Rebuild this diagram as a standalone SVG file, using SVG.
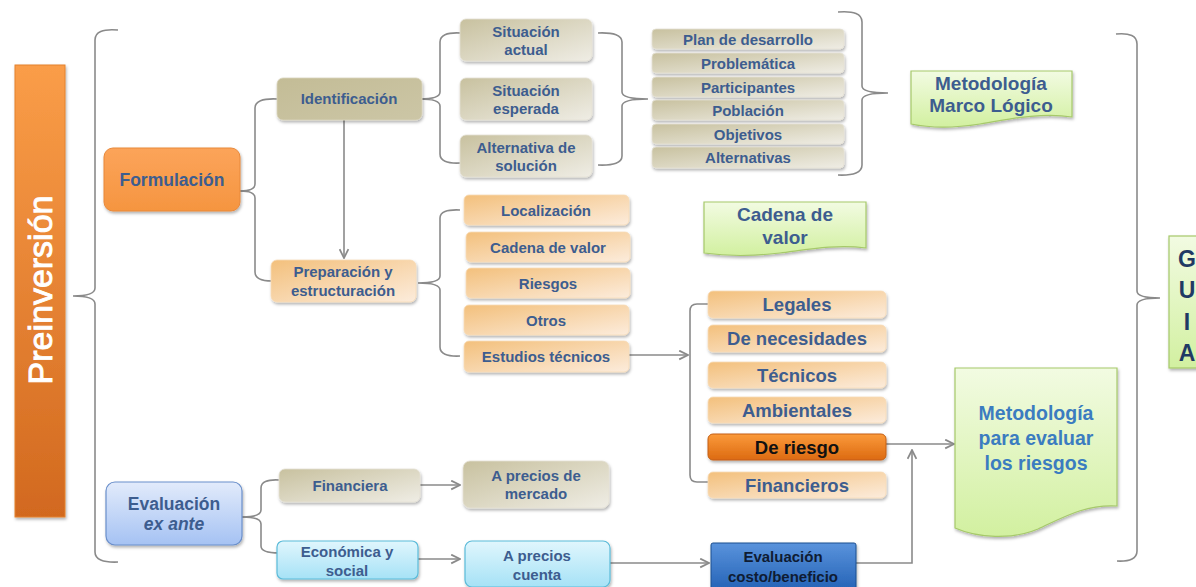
<svg xmlns="http://www.w3.org/2000/svg" width="1196" height="587" viewBox="0 0 1196 587">
  <defs>
    <linearGradient id="gOrangeBar" x1="0" y1="0" x2="0" y2="1">
      <stop offset="0" stop-color="#fa9d48"/>
      <stop offset="1" stop-color="#d2691f"/>
    </linearGradient>
    <linearGradient id="gOrange" x1="0" y1="0" x2="0" y2="1">
      <stop offset="0" stop-color="#fca45a"/>
      <stop offset="1" stop-color="#f59540"/>
    </linearGradient>
    <linearGradient id="gRisk" x1="0" y1="0" x2="0" y2="1">
      <stop offset="0" stop-color="#fb9a3a"/>
      <stop offset="1" stop-color="#dc6a12"/>
    </linearGradient>
    <linearGradient id="gKhakiDark" x1="0" y1="0" x2="1" y2="1">
      <stop offset="0" stop-color="#c3bc96"/>
      <stop offset="1" stop-color="#ccc6a6"/>
    </linearGradient>
    <linearGradient id="gKhaki" x1="0" y1="0" x2="1" y2="1">
      <stop offset="0" stop-color="#c8c19f"/>
      <stop offset="1" stop-color="#efede5"/>
    </linearGradient>
    <linearGradient id="gPeach" x1="0" y1="0" x2="1" y2="1">
      <stop offset="0" stop-color="#f3c07c"/>
      <stop offset="1" stop-color="#fcecdc"/>
    </linearGradient>
    <linearGradient id="gBlueLight" x1="0" y1="0" x2="0" y2="1">
      <stop offset="0" stop-color="#e2ebfb"/>
      <stop offset="1" stop-color="#a5c2f3"/>
    </linearGradient>
    <linearGradient id="gCyan" x1="0" y1="0" x2="0" y2="1">
      <stop offset="0" stop-color="#e0f6fd"/>
      <stop offset="1" stop-color="#a6e2f6"/>
    </linearGradient>
    <linearGradient id="gBlueDark" x1="0" y1="0" x2="0" y2="1">
      <stop offset="0" stop-color="#5a93dc"/>
      <stop offset="1" stop-color="#2160b4"/>
    </linearGradient>
    <linearGradient id="gGreen" x1="0" y1="0" x2="0" y2="1">
      <stop offset="0" stop-color="#f2fbe2"/>
      <stop offset="1" stop-color="#d2f0a0"/>
    </linearGradient>
    <filter id="shadow" x="-10%" y="-20%" width="125%" height="150%">
      <feDropShadow dx="1" dy="2" stdDeviation="1.4" flood-color="#000" flood-opacity="0.3"/>
    </filter>
    <marker id="arrow" viewBox="0 0 10 10" refX="9" refY="5" markerWidth="11" markerHeight="11" markerUnits="userSpaceOnUse" orient="auto">
      <path d="M1,1 L9,5 L1,9" fill="none" stroke="#8a8a8a" stroke-width="1.6"/>
    </marker>
    <style>
      .conn { fill: none; stroke: #8a8a8a; stroke-width: 1.6; }
      .arr { fill: none; stroke: #8a8a8a; stroke-width: 1.6; marker-end: url(#arrow); }
      .box { filter: url(#shadow); }
      .t { font-family: "Liberation Sans", Arial, sans-serif; font-weight: bold; fill: #3d5d8f; text-anchor: middle; }
      .s15 { font-size: 15px; }
      .s17 { font-size: 17.5px; }
      .s18 { font-size: 18.5px; }
      .s19 { font-size: 19px; }
      .khakiD { fill: url(#gKhakiDark); stroke: #d9d4bd; stroke-width: 0.8; }
      .khaki { fill: url(#gKhaki); stroke: #e4e1d4; stroke-width: 0.8; }
      .peach { fill: url(#gPeach); stroke: #f7dcb8; stroke-width: 0.8; }
      .green { fill: url(#gGreen); stroke: #a6c96a; stroke-width: 1.2; }
    </style>
  </defs>

  <rect width="1196" height="587" fill="#ffffff"/>

  <!-- connectors: braces and arrows -->
  <g id="connectors">
    <path class="conn" d="M118,30 Q95,28 95,40 L95,288 Q95,296 73,296 Q95,296 95,304 L95,552 Q95,563 118,562"/>
    <path class="conn" d="M277,99 Q255,98 255,108 L255,184 Q255,191 240,191 Q255,191 255,198 L255,272 Q255,281 272,281"/>
    <path class="conn" d="M460,33 Q440,32 440,42 L440,92 Q440,99 420,99 Q440,99 440,106 L440,154 Q440,164 460,163"/>
    <path class="conn" d="M598,33 Q622,32 622,42 L622,92 Q622,99 648,99 Q622,99 622,106 L622,156 Q622,166 598,165"/>
    <path class="conn" d="M838,12 Q862,10 862,22 L862,86 Q862,93 888,93 Q862,93 862,100 L862,165 Q862,176 838,175"/>
    <path class="conn" d="M1116,34 Q1137,32 1137,44 L1137,291 Q1137,298 1160,298 Q1137,298 1137,305 L1137,551 Q1137,562 1117,561"/>
    <path class="conn" d="M460,210 Q440,209 440,218 L440,276 Q440,283 418,283 Q440,283 440,290 L440,347 Q440,357 460,356"/>
    <path class="conn" d="M279,480 Q261,479 261,488 L261,510 Q261,517 242,517 Q261,517 261,524 L261,546 Q261,553 279,553"/>
    <path class="conn" d="M708,304 L697,304 Q690,304 690,311 L690,475 Q690,482 697,482 L708,482"/>
    <path class="arr" d="M344,120 L344,258"/>
    <path class="arr" d="M629,355 L688,355"/>
    <path class="arr" d="M886,444 L954,444"/>
    <path class="arr" d="M856,563 L912,563 L912,450"/>
    <path class="arr" d="M420,485 L460,485"/>
    <path class="arr" d="M418,559 L460,559"/>
    <path class="arr" d="M610,563 L709,563"/>
  </g>

  <!-- vertical stage bar -->
  <g id="preinversion">
    <rect x="15" y="65" width="50" height="452" fill="url(#gOrangeBar)" stroke="#e4822e" stroke-width="1" class="box"/>
    <text transform="translate(52,290) rotate(-90)" text-anchor="middle" font-family="'Liberation Sans', Arial, sans-serif" font-size="34" fill="#ffffff" stroke="#ffffff" stroke-width="0.9">Preinversión</text>
  </g>

  <g id="formulacion">
    <rect x="104" y="148" width="136" height="63" rx="9" fill="url(#gOrange)" stroke="#e8883a" stroke-width="1" class="box"/>
    <text class="t s17" x="172" y="186">Formulación</text>
  </g>

  <g id="identificacion">
    <rect x="277" y="78" width="145" height="42" rx="6" class="khakiD box"/>
    <text class="t s15" x="349" y="104">Identificación</text>
  </g>

  <g id="situacion-actual">
    <rect x="460" y="19" width="132" height="42" rx="6" class="khaki box"/>
    <text class="t s15" x="526" y="37">Situación</text>
    <text class="t s15" x="526" y="55">actual</text>
  </g>
  <g id="situacion-esperada">
    <rect x="460" y="78" width="132" height="42" rx="6" class="khaki box"/>
    <text class="t s15" x="526" y="96">Situación</text>
    <text class="t s15" x="526" y="114">esperada</text>
  </g>
  <g id="alternativa-solucion">
    <rect x="460" y="135" width="132" height="42" rx="6" class="khaki box"/>
    <text class="t s15" x="526" y="153">Alternativa de</text>
    <text class="t s15" x="526" y="171">solución</text>
  </g>

  <g id="plan-desarrollo">
    <rect x="652" y="29" width="192" height="20" rx="4" class="khaki box"/>
    <text class="t s15" x="748" y="45">Plan de desarrollo</text>
  </g>
  <g id="problematica">
    <rect x="652" y="53" width="192" height="20" rx="4" class="khaki box"/>
    <text class="t s15" x="748" y="69">Problemática</text>
  </g>
  <g id="participantes">
    <rect x="652" y="77" width="192" height="20" rx="4" class="khaki box"/>
    <text class="t s15" x="748" y="93">Participantes</text>
  </g>
  <g id="poblacion">
    <rect x="652" y="100" width="192" height="20" rx="4" class="khaki box"/>
    <text class="t s15" x="748" y="116">Población</text>
  </g>
  <g id="objetivos">
    <rect x="652" y="124" width="192" height="20" rx="4" class="khaki box"/>
    <text class="t s15" x="748" y="140">Objetivos</text>
  </g>
  <g id="alternativas">
    <rect x="652" y="147" width="192" height="21" rx="4" class="khaki box"/>
    <text class="t s15" x="748" y="163">Alternativas</text>
  </g>

  <g id="marco-logico">
    <path d="M911,71 H1072 V117 C1040,112 1005,120 980,124 C955,128 930,128 911,124 Z" class="green box"/>
    <text class="t s19" x="991" y="90">Metodología</text>
    <text class="t s19" x="991" y="112">Marco Lógico</text>
  </g>

  <g id="cadena-valor-nota">
    <path d="M704,202 H866 V248 C835,244 805,250 780,253 C755,256 725,256 704,253 Z" class="green box"/>
    <text class="t s19" x="785" y="221">Cadena de</text>
    <text class="t s19" x="785" y="244">valor</text>
  </g>

  <g id="preparacion">
    <rect x="271" y="260" width="145" height="42" rx="6" class="peach box"/>
    <text class="t s15" x="343" y="277">Preparación y</text>
    <text class="t s15" x="343" y="296">estructuración</text>
  </g>

  <g id="localizacion">
    <rect x="464" y="195" width="165" height="30" rx="5" class="peach box"/>
    <text class="t s15" x="546" y="216">Localización</text>
  </g>
  <g id="cadena-valor">
    <rect x="466" y="232" width="164" height="30" rx="5" class="peach box"/>
    <text class="t s15" x="548" y="253">Cadena de valor</text>
  </g>
  <g id="riesgos">
    <rect x="466" y="268" width="164" height="30" rx="5" class="peach box"/>
    <text class="t s15" x="548" y="289">Riesgos</text>
  </g>
  <g id="otros">
    <rect x="464" y="305" width="165" height="30" rx="5" class="peach box"/>
    <text class="t s15" x="546" y="326">Otros</text>
  </g>
  <g id="estudios-tecnicos">
    <rect x="464" y="341" width="165" height="31" rx="5" class="peach box"/>
    <text class="t s15" x="546" y="362">Estudios técnicos</text>
  </g>

  <g id="legales">
    <rect x="708" y="291" width="178" height="27" rx="5" class="peach box"/>
    <text class="t s18" x="797" y="311">Legales</text>
  </g>
  <g id="necesidades">
    <rect x="708" y="325" width="178" height="27" rx="5" class="peach box"/>
    <text class="t s18" x="797" y="345">De necesidades</text>
  </g>
  <g id="tecnicos">
    <rect x="708" y="362" width="178" height="26" rx="5" class="peach box"/>
    <text class="t s18" x="797" y="382">Técnicos</text>
  </g>
  <g id="ambientales">
    <rect x="708" y="397" width="178" height="26" rx="5" class="peach box"/>
    <text class="t s18" x="797" y="417">Ambientales</text>
  </g>
  <g id="de-riesgo">
    <rect x="708" y="434" width="178" height="26" rx="5" fill="url(#gRisk)" stroke="#c45f12" stroke-width="1" class="box"/>
    <text class="t s18" x="797" y="454" style="fill:#111111">De riesgo</text>
  </g>
  <g id="financieros">
    <rect x="708" y="472" width="178" height="26" rx="5" class="peach box"/>
    <text class="t s18" x="797" y="492">Financieros</text>
  </g>

  <g id="evaluar-riesgos">
    <path d="M955,368 H1117 V506 C1085,504 1062,518 1038,529 C1012,540 978,538 955,528 Z" class="green box"/>
    <text class="t" x="1036" y="420" style="font-size:19.5px;fill:#3b7cc0">Metodología</text>
    <text class="t" x="1036" y="445" style="font-size:19.5px;fill:#3b7cc0">para evaluar</text>
    <text class="t" x="1036" y="470" style="font-size:19.5px;fill:#3b7cc0">los riesgos</text>
  </g>

  <g id="guia">
    <rect x="1169" y="236" width="40" height="132" class="green box"/>
    <text class="t" x="1187" y="267" style="font-size:23px;fill:#1f3a64">G</text>
    <text class="t" x="1187" y="298" style="font-size:23px;fill:#1f3a64">U</text>
    <text class="t" x="1187" y="330" style="font-size:23px;fill:#1f3a64">I</text>
    <text class="t" x="1187" y="361" style="font-size:23px;fill:#1f3a64">A</text>
  </g>

  <g id="evaluacion-ex-ante">
    <rect x="106" y="482" width="136" height="63" rx="9" fill="url(#gBlueLight)" stroke="#6a8fcb" stroke-width="1.2" class="box"/>
    <text class="t s17" x="174" y="510">Evaluación</text>
    <text class="t s17" x="174" y="530" font-style="italic">ex ante</text>
  </g>

  <g id="financiera">
    <rect x="279" y="469" width="141" height="33" rx="6" class="khaki box"/>
    <text class="t s15" x="350" y="491">Financiera</text>
  </g>
  <g id="precios-mercado">
    <rect x="463" y="461" width="146" height="47" rx="7" class="khaki box"/>
    <text class="t s15" x="536" y="481">A precios de</text>
    <text class="t s15" x="536" y="499">mercado</text>
  </g>

  <g id="economica-social">
    <rect x="277" y="541" width="141" height="38" rx="6" fill="url(#gCyan)" stroke="#5bbbd9" stroke-width="1.2" class="box"/>
    <text class="t s15" x="347" y="557">Económica y</text>
    <text class="t s15" x="347" y="576">social</text>
  </g>
  <g id="precios-cuenta">
    <rect x="465" y="541" width="145" height="46" rx="7" fill="url(#gCyan)" stroke="#5bbbd9" stroke-width="1.2" class="box"/>
    <text class="t s15" x="537" y="561">A precios</text>
    <text class="t s15" x="537" y="580">cuenta</text>
  </g>

  <g id="costo-beneficio">
    <rect x="711" y="543" width="145" height="50" rx="2" fill="url(#gBlueDark)" stroke="#1d4f8f" stroke-width="1" class="box"/>
    <text class="t s15" x="783" y="562" style="fill:#0f1c33">Evaluación</text>
    <text class="t s15" x="783" y="582" style="fill:#0f1c33">costo/beneficio</text>
  </g>
</svg>
